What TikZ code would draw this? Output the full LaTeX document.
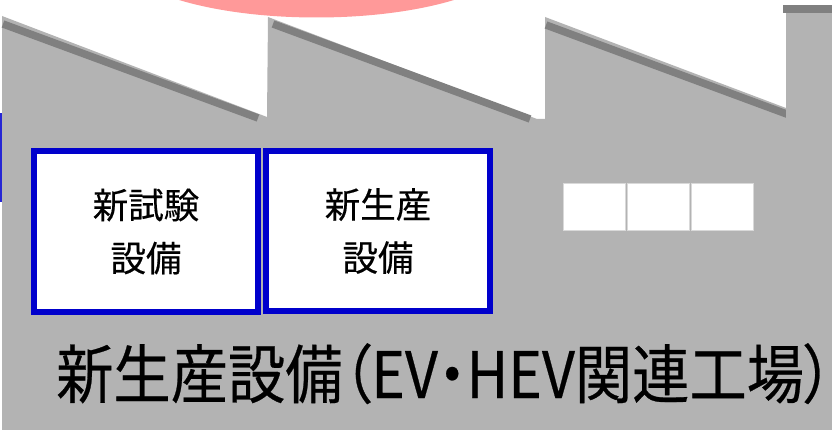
\documentclass[tikz,border=0pt]{standalone}
\usepackage{fontspec}
\newfontfamily\jp{Noto Sans CJK JP}[RawFeature=+palt,FakeBold=0.4]
\newfontfamily\jptitle{Noto Sans CJK JP}[RawFeature=+palt,FakeBold=0.4,FakeStretch=0.895]
\definecolor{bodygray}{HTML}{B3B3B3}
\definecolor{roofdark}{HTML}{808080}
\definecolor{pinkfill}{HTML}{FF9999}
\definecolor{boxblue}{HTML}{0000CC}
\definecolor{winedge}{HTML}{D9D9D9}
\tikzset{
  roofstrip/.style={draw=roofdark, line width=7.5pt, line cap=butt},
  equipbox/.style={draw=boxblue, line width=6pt, fill=white, inner sep=0pt,
    minimum width=224pt, align=center,
    font=\jp\fontsize{35.5}{53}\selectfont},
  window/.style={draw=winedge, line width=1pt, fill=white, inner sep=0pt,
    minimum width=62pt, minimum height=47pt},
  titletext/.style={inner sep=0pt, anchor=base west,
    font=\jptitle\fontsize{64}{70}\selectfont}
}
\begin{document}
\begin{tikzpicture}[x=1pt,y=-1pt]
\useasboundingbox (0,0) rectangle (832,430);
\fill[white] (0,0) rectangle (832,430);
% factory body with saw-tooth roof
\fill[bodygray] (2,430) -- (2,16) -- (267,117) -- (268,17) -- (537,119)
  -- (545,119) -- (545,17) -- (786,108) -- (786,13) -- (832,13)
  -- (832,430) -- cycle;
% pink ellipse above
\fill[pinkfill] (316.5,-46.5) ellipse [x radius=200pt, y radius=64pt];
% roof strips
\draw[roofstrip] (3,24) -- (258,118);
\draw[roofstrip] (273,24) -- (530,119);
\draw[roofstrip] (546,25) -- (792,116);
% chimney
\fill[bodygray] (786,13) rectangle (832,430);
\fill[roofdark] (783,5) rectangle (832,13);
% blue edge at left
\fill[boxblue!85] (0,113) rectangle (2.2,202);
% equipment boxes
\node[equipbox, minimum height=161pt] (test) at (146,231.5) {新試験\\設備};
\node[equipbox, minimum height=160pt] (prod) at (378,231) {新生産\\設備};
% windows
\node[window] (w1) at (594,207.5) {};
\node[window] (w2) at (658,207.5) {};
\node[window] (w3) at (722,207.5) {};
% title
\node[titletext] (title) at (56,398) {新生産設備（EV・HEV関連工場）};
\end{tikzpicture}
\end{document}
